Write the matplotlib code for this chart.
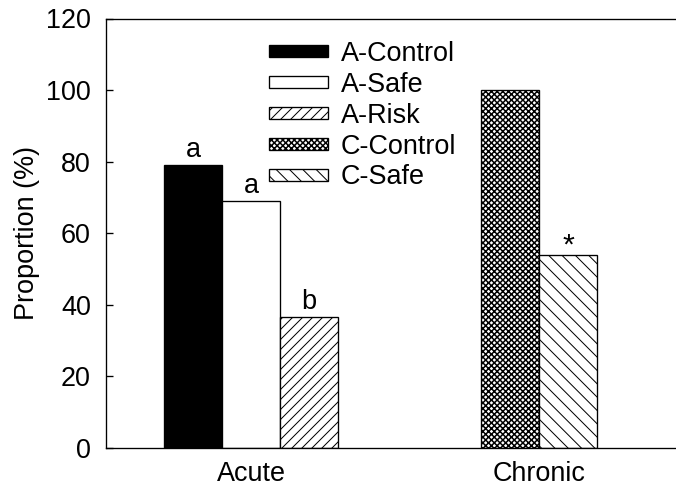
import matplotlib
matplotlib.use("Agg")
import matplotlib.pyplot as plt

plt.rcParams['font.family'] = ['Liberation Sans', 'DejaVu Sans']
plt.rcParams['hatch.linewidth'] = 0.6

# Data
groups = ["Acute", "Chronic"]
series = ["A-Control", "A-Safe", "A-Risk", "C-Control", "C-Safe"]
values = [79, 69, 36.5, 100, 54]
letters = ["a", "a", "b", "", "*"]
yticks = [0, 20, 40, 60, 80, 100, 120]

# Styles / positions
positions = [0, 1, 2, 5.47, 6.47]
group_centers = [1, 5.97]
faces = ["black", "white", "white", "white", "white"]
hatches = [None, None, "////", "xxxxxxx", "\\\\\\"]
hatch_lw = [0.6, 0.6, 0.6, 0.9, 0.6]

DPI = 120
fig = plt.figure(figsize=(676 / DPI, 486 / DPI), dpi=DPI)
W, H = 676, 486
ax = fig.add_axes([106 / W, 1 - 448 / H, 1 - 106 / W, (448 - 18.5) / H])

FS = 16.2
for x, v, fc, h, hl, lab in zip(positions, values, faces, hatches, hatch_lw, series):
    bc = ax.bar(x, v, width=1.0, color=fc, edgecolor="black", linewidth=0.8,
                hatch=h, label=lab)
    for p in bc.patches:
        if hasattr(p, "set_hatch_linewidth"):
            p.set_hatch_linewidth(hl)

for x, v, t in zip(positions, values, letters):
    if not t:
        continue
    if t == "*":
        ax.text(x, v + 0.4, t, ha="center", va="baseline", fontsize=FS + 2)
    else:
        ax.text(x, v + 2.3, t, ha="center", va="baseline", fontsize=FS)

ax.set_ylim(0, 120)
ax.set_xlim(-(193 - 106) / 58, (676 - 193) / 58)
ax.set_yticks(yticks)
ax.set_yticklabels([str(t) for t in yticks], fontsize=FS)
ax.set_xticks(group_centers)
ax.set_xticklabels(groups, fontsize=FS)
ax.tick_params(axis="y", direction="in", length=4.2, width=0.8, pad=9)
ax.tick_params(axis="x", length=0, pad=8)
ax.spines["right"].set_visible(False)
for s in ["left", "bottom", "top"]:
    ax.spines[s].set_linewidth(0.8)

fig.text(27 / W, 1 - 233 / H, "Proportion (%)", rotation=90, ha="center",
         va="center", fontsize=FS)

leg = ax.legend(loc="upper left", bbox_to_anchor=(269 / W, 1 - 41 / H),
                bbox_transform=fig.transFigure, frameon=False, borderpad=0,
                borderaxespad=0, handlelength=2.2, handleheight=0.32,
                handletextpad=0.45, labelspacing=0.18, fontsize=FS)
for p, hl in zip(leg.get_patches(), hatch_lw):
    if hasattr(p, "set_hatch_linewidth"):
        p.set_hatch_linewidth(hl)

fig.savefig("out.png", dpi=DPI)
